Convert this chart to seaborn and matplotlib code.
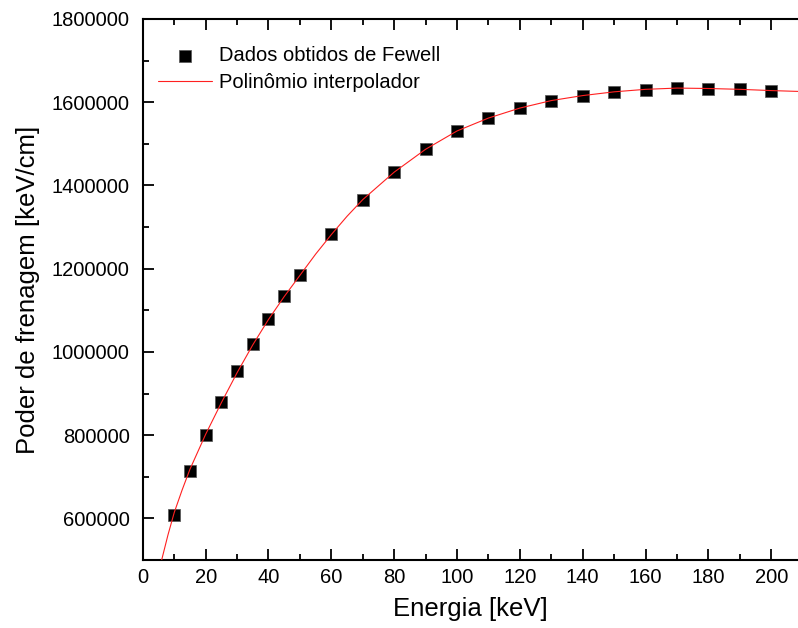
import numpy as np
import pandas as pd
import matplotlib
matplotlib.use("Agg")
import matplotlib.pyplot as plt
import seaborn as sns
from matplotlib.ticker import MultipleLocator, FuncFormatter

# dados
energia = [10, 15, 20, 25, 30, 35, 40, 45, 50, 60, 70, 80, 90, 100,
           110, 120, 130, 140, 150, 160, 170, 180, 190, 200]
poder = [608000, 715000, 801000, 880000, 953000, 1019000, 1079000, 1134000,
         1185000, 1284000, 1365000, 1432000, 1487000, 1531000, 1561000,
         1585000, 1604000, 1616000, 1625000, 1630000, 1635000, 1631000,
         1631000, 1626000]

curva_x = [6.0, 8, 10, 12.5, 15, 20, 25, 30, 35, 40, 45, 50, 55, 60, 65, 70,
           80, 90, 100, 110, 120, 130, 140, 150, 160, 170, 180, 190, 200, 208.5]
curva_y = [500000, 560000, 614000, 668000, 718000, 802000, 878000, 950000,
           1017000, 1078000, 1133000, 1184000, 1235000, 1282000, 1326000,
           1366000, 1432000, 1487000, 1531000, 1562000, 1586000, 1604000,
           1616000, 1625000, 1631000, 1634000, 1633000, 1631000, 1628000,
           1626000]

df_pts = pd.DataFrame({"x": energia, "y": poder})
df_cur = pd.DataFrame({"x": curva_x, "y": curva_y})

sns.set_theme(style="ticks")
plt.rcParams['font.family'] = ['Liberation Sans', 'DejaVu Sans']
plt.rcParams['text.color'] = 'black'
plt.rcParams['axes.labelcolor'] = 'black'

fig = plt.figure(figsize=(7.98, 6.28), dpi=100)
ax = fig.add_axes([142.8 / 798, 1 - 560 / 628, 1 - 142.8 / 798, (560 - 19) / 628])

sns.scatterplot(data=df_pts, x="x", y="y", ax=ax, marker="s", s=64,
                color="black", edgecolor="#555555", linewidth=0.5,
                label="Dados obtidos de Fewell", zorder=3)
sns.lineplot(data=df_cur, x="x", y="y", ax=ax, color="#ff2020", linewidth=0.8,
             label="Polinômio interpolador", zorder=4, sort=False)

ax.set_xlim(0, 208.5)
ax.set_ylim(500000, 1800000)
ax.xaxis.set_major_locator(MultipleLocator(20))
ax.xaxis.set_minor_locator(MultipleLocator(10))
ax.yaxis.set_major_locator(MultipleLocator(200000))
ax.yaxis.set_minor_locator(MultipleLocator(100000))
ax.yaxis.set_major_formatter(FuncFormatter(lambda v, p: f"{int(round(v))}"))
ax.xaxis.set_major_formatter(FuncFormatter(lambda v, p: f"{int(round(v))}"))

ax.tick_params(which="both", direction="in", top=True, right=False,
               width=1.3, colors="black", labelsize=14.5)
ax.tick_params(axis="x", pad=6)
ax.tick_params(axis="y", pad=9.5)
ax.tick_params(which="major", length=8)
ax.tick_params(which="minor", length=4.5)

for side in ["left", "bottom", "top"]:
    ax.spines[side].set_linewidth(1.5)
    ax.spines[side].set_color("black")
ax.spines["right"].set_visible(False)

ax.set_xlabel("Energia [keV]", fontsize=18.5, labelpad=7)
ax.set_ylabel("Poder de frenagem [keV/cm]", fontsize=18.5, labelpad=8)

ax.legend(loc="upper left", bbox_to_anchor=(158 / 798, 1 - 46 / 628),
          bbox_transform=fig.transFigure, frameon=False, fontsize=14.5,
          borderpad=0, borderaxespad=0, handlelength=2.7, handletextpad=0.35,
          labelspacing=0.4)

fig.savefig("out.png", dpi=100)
